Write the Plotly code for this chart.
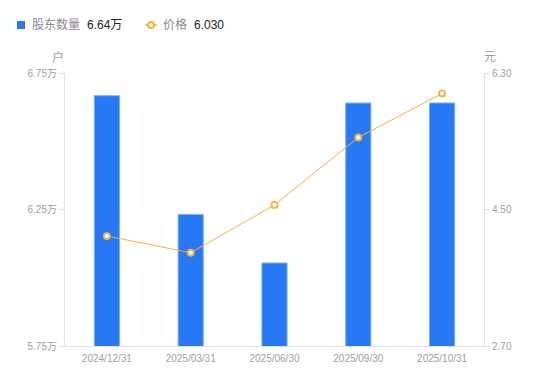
import plotly.graph_objects as go

dates = ["2024/12/31", "2025/03/31", "2025/06/30", "2025/09/30", "2025/10/31"]
holders = [6.667, 6.232, 6.054, 6.64, 6.64]   # 万户
price = [4.15, 3.93, 4.56, 5.45, 6.03]       # 元
left_ticks = [5.75, 6.25, 6.75]
right_ticks = [2.70, 4.50, 6.30]

BLUE = "#2679F5"
ORANGE = "#FBB03B"
GRAY = "#A0A0AA"
LEG_GRAY = "#8A8A95"
AXIS = "#E3E3E8"
FONT = "Liberation Sans, Noto Sans CJK SC, sans-serif"

# page has an 8px body margin; plot area on screen: x 65..484, y 73..346
W, H = 550, 381
OFF = 8
PL, PR, PT, PB = 65 - OFF, 484 - OFF, 73 - OFF, 346 - OFF


def X(px):
    return (px - OFF - PL) / (PR - PL)


def Y(py):
    return (PB - (py - OFF)) / (PB - PT)


fig = go.Figure()
fig.add_trace(go.Bar(
    x=dates, y=holders, width=0.3,
    marker=dict(color=BLUE, line=dict(color="#7FAEF8", width=1)),
    name="股东数量", yaxis="y", showlegend=False, hoverinfo="x+y",
))
fig.add_trace(go.Scatter(
    x=dates, y=price, mode="lines+markers",
    line=dict(color=ORANGE, width=1),
    marker=dict(symbol="circle", size=6, color="white", line=dict(color=ORANGE, width=1.8)),
    name="价格", yaxis="y2", showlegend=False,
))

shapes = [
    dict(type="rect", xref="paper", yref="paper", x0=X(17), x1=X(25), y0=Y(29), y1=Y(21),
         fillcolor=BLUE, line=dict(width=0)),
    dict(type="line", xref="paper", yref="paper", x0=X(145), x1=X(157), y0=Y(25), y1=Y(25),
         line=dict(color=ORANGE, width=1.5)),
    dict(type="circle", xref="paper", yref="paper", x0=X(148), x1=X(154), y0=Y(28), y1=Y(22),
         fillcolor="white", line=dict(color=ORANGE, width=1.8)),
]

annotations = [
    dict(text="股东数量", x=X(30), y=Y(25)),
    dict(text=f"{holders[-1]:.2f}万", x=X(84.5), y=Y(25), color="#222"),
    dict(text="价格", x=X(161), y=Y(25)),
    dict(text=f"{price[-1]:.3f}", x=X(191.5), y=Y(25), color="#222"),
]
ann = []
for a in annotations:
    ann.append(dict(text=a["text"], xref="paper", yref="paper", x=a["x"], y=a["y"],
                    xanchor="left", yanchor="middle", showarrow=False,
                    font=dict(size=12, color=a.get("color", LEG_GRAY))))
ann += [
    dict(text="户", xref="paper", yref="paper", x=0, y=1, xshift=-7, yshift=16,
         xanchor="center", yanchor="middle", showarrow=False, font=dict(size=12, color=GRAY)),
    dict(text="元", xref="paper", yref="paper", x=1, y=1, xshift=6, yshift=16,
         xanchor="center", yanchor="middle", showarrow=False, font=dict(size=12, color=GRAY)),
]

fig.update_layout(
    width=W, height=H,
    margin=dict(l=PL, r=W - PR, t=PT, b=H - PB, autoexpand=False),
    paper_bgcolor="white", plot_bgcolor="white",
    font=dict(family=FONT, size=10, color=GRAY),
    showlegend=False,
    xaxis=dict(type="category", showgrid=False, showline=True, linecolor=AXIS, linewidth=1,
               ticks="outside", ticklen=3, tickcolor="rgba(0,0,0,0)",
               tickfont=dict(size=10, color=GRAY), range=[-0.5, 4.5]),
    yaxis=dict(range=[5.75, 6.75], tickvals=left_ticks,
               ticktext=[f"{v:.2f}万" for v in left_ticks], showgrid=False, zeroline=False,
               showline=True, linecolor=AXIS, linewidth=1, ticks="outside", ticklen=5,
               tickcolor=AXIS, tickfont=dict(size=10, color=GRAY)),
    yaxis2=dict(range=[2.70, 6.30], tickvals=right_ticks,
                ticktext=[f"{v:.2f}" for v in right_ticks], overlaying="y", side="right",
                showgrid=False, zeroline=False, showline=True, linecolor=AXIS, linewidth=1,
                ticks="outside", ticklen=5, tickcolor=AXIS, tickfont=dict(size=10, color=GRAY)),
    shapes=shapes,
    annotations=ann,
)

fig.write_html("out.html")
